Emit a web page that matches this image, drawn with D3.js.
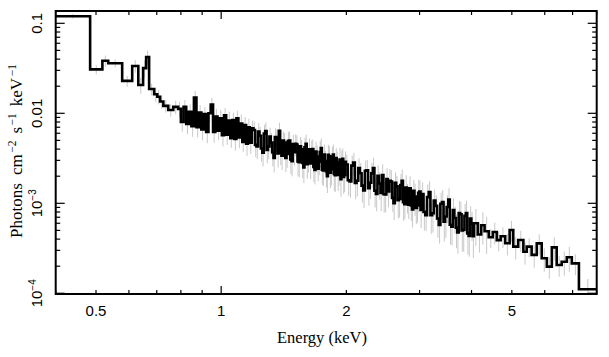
<!DOCTYPE html>
<html><head><meta charset="utf-8">
<script src="https://cdn.jsdelivr.net/npm/d3@7"></script>
<style>body{margin:0;background:#fff}svg{display:block}</style>
</head><body><svg id="c" width="609" height="357"></svg>
<script>
// Bin edges (keV)
const binEdges = [
 0.40, 0.484, 0.518, 0.535, 0.578, 0.611, 0.632, 0.649, 0.660, 0.671, 0.690, 0.702, 0.713, 0.726, 0.746, 0.767, 0.788,
 0.800, 0.812, 0.824, 0.836, 0.848, 0.860, 0.872, 0.884, 0.896, 0.908, 0.920, 0.932, 0.944, 0.956, 0.968, 0.980, 0.992,
 1.004, 1.016, 1.028, 1.040, 1.052, 1.064, 1.076, 1.088, 1.100, 1.112, 1.124, 1.136, 1.148, 1.160, 1.172, 1.184, 1.196,
 1.206, 1.216, 1.226, 1.236, 1.246, 1.256, 1.266, 1.276, 1.286, 1.296, 1.306, 1.316, 1.326, 1.336, 1.346, 1.356, 1.366,
 1.376, 1.386, 1.396, 1.406, 1.416, 1.426, 1.436, 1.446, 1.456, 1.466, 1.476, 1.486, 1.496, 1.506, 1.516, 1.526, 1.536,
 1.546, 1.556, 1.566, 1.576, 1.586, 1.596, 1.606, 1.616, 1.626, 1.636, 1.646, 1.656, 1.666, 1.676, 1.686, 1.696, 1.706,
 1.716, 1.726, 1.736, 1.746, 1.756, 1.766, 1.776, 1.786, 1.796, 1.806, 1.816, 1.826, 1.836, 1.846, 1.856, 1.866, 1.876,
 1.886, 1.896, 1.906, 1.916, 1.926, 1.936, 1.946, 1.956, 1.966, 1.976, 1.986, 1.996,
 2.016, 2.036, 2.056, 2.076, 2.096, 2.116, 2.136, 2.156, 2.176, 2.196, 2.216, 2.236, 2.256, 2.276, 2.296, 2.316, 2.336,
 2.356, 2.376, 2.396, 2.416, 2.436, 2.456, 2.476, 2.496, 2.516, 2.536, 2.556, 2.576, 2.596, 2.616, 2.636, 2.656, 2.676,
 2.696, 2.716, 2.736, 2.756, 2.776, 2.796, 2.816, 2.836, 2.856, 2.876, 2.896, 2.916, 2.936, 2.956, 2.976, 2.996, 3.016, 3.036,
 3.066, 3.096, 3.126, 3.156, 3.186, 3.216, 3.246, 3.276, 3.306, 3.336, 3.366, 3.396, 3.426, 3.456, 3.486, 3.516, 3.546,
 3.576, 3.606, 3.636, 3.666, 3.696, 3.726, 3.756, 3.786, 3.816, 3.846, 3.876, 3.906, 3.936, 3.966, 3.996, 4.026, 4.056,
 4.14, 4.22, 4.30, 4.40, 4.50, 4.60, 4.70, 4.82, 4.94, 5.04, 5.18, 5.33, 5.43, 5.58, 5.74, 5.90, 6.07, 6.24, 6.41, 6.59,
 6.78, 6.97, 7.25, 8.0
];
// Flux per bin (photons cm^-2 s^-1 keV^-1)
const flux = [
 0.120, 0.0308, 0.0384, 0.0360, 0.0229, 0.0336, 0.0206, 0.0318, 0.0422, 0.0186, 0.0163, 0.0153, 0.0135, 0.0121, 0.0109, 0.0118,
 0.0112, 0.0080, 0.0118, 0.0076, 0.0104, 0.0072, 0.0150, 0.0070, 0.0102, 0.0066, 0.0098, 0.0062, 0.0100, 0.0125, 0.0062, 0.0092,
 0.0064, 0.0088, 0.0057, 0.0095, 0.0058, 0.0083, 0.0053, 0.0084, 0.0052, 0.0088, 0.0054, 0.0077, 0.0048, 0.0074, 0.0046, 0.0070,
 0.0047, 0.0068,
 0.00653, 0.00446, 0.00429, 0.00628, 0.00563, 0.00408, 0.00365, 0.00597, 0.00637, 0.00392, 0.00428, 0.00553, 0.00474, 0.00369,
 0.00319, 0.00546, 0.00522, 0.00357, 0.00640, 0.00380, 0.00339, 0.00497, 0.00473, 0.00320, 0.00353, 0.00491, 0.00498, 0.00307,
 0.00293, 0.00455, 0.00370, 0.00458, 0.00449, 0.00292, 0.00286, 0.00430, 0.00397, 0.00280, 0.00250, 0.00420, 0.00459, 0.00272,
 0.00307, 0.00397, 0.00278, 0.00387, 0.00400, 0.00253, 0.00235, 0.00375, 0.00331, 0.00243, 0.00289, 0.00371, 0.00412, 0.00236,
 0.00232, 0.00349, 0.00295, 0.00227, 0.00200, 0.00345, 0.00333, 0.00219, 0.00239, 0.00330, 0.00348, 0.00212, 0.00205, 0.00318,
 0.00286, 0.00207, 0.00231, 0.00307, 0.00185, 0.00296, 0.00312, 0.00196, 0.00206, 0.00290,
 0.00269, 0.00180, 0.00175, 0.00262, 0.00284, 0.00168, 0.00178, 0.00246, 0.00216, 0.00157, 0.00139, 0.00230, 0.00233, 0.00147,
 0.00169, 0.00215, 0.00247, 0.00138, 0.00127, 0.00202, 0.00166, 0.00130, 0.00206, 0.00126, 0.00125, 0.00186, 0.00135, 0.00178,
 0.00174, 0.00115, 0.00100, 0.00169, 0.00154, 0.00108, 0.00112, 0.00160, 0.00178, 0.00103, 0.000978, 0.00150, 0.00120, 0.000967,
 0.00147, 0.000944, 0.000853, 0.00138, 0.00119, 0.000889, 0.000948, 0.00131, 0.00135, 0.000842,
 0.00127, 0.000803, 0.000736, 0.00117, 0.00133, 0.000739, 0.000775, 0.00107, 0.000937, 0.000679, 0.000576, 0.000987, 0.00103,
 0.000626, 0.000714, 0.000910, 0.00110, 0.000578, 0.000549, 0.000841, 0.000687, 0.000536, 0.000474, 0.000781, 0.000756,
 0.000498, 0.000508, 0.000726, 0.000780, 0.000463, 0.000433, 0.000676, 0.000595, 0.000431,
 0.00060, 0.00045, 0.00057, 0.00049, 0.00042, 0.00048, 0.00039, 0.00043, 0.00036, 0.000505, 0.000330, 0.000391, 0.000290, 0.000330,
 0.000267, 0.000359, 0.000245, 0.000198, 0.000324, 0.000206, 0.000224, 0.000251, 0.000215, 0.000111
];
// Relative 1-sigma error per bin
const fluxErr = [
 0.06, 0.12, 0.14, 0.10, 0.14, 0.16, 0.20, 0.22, 0.18, 0.15, 0.18, 0.18, 0.17, 0.16, 0.16, 0.17,
 0.20, 0.22, 0.19, 0.23, 0.21, 0.24, 0.18, 0.23, 0.21, 0.24, 0.20, 0.25, 0.21, 0.19, 0.24, 0.22,
 0.21, 0.24, 0.25, 0.20, 0.23, 0.25, 0.22, 0.21, 0.26, 0.21, 0.24, 0.26, 0.22, 0.23, 0.27, 0.24,
 0.25, 0.23,
 0.24, 0.27, 0.28, 0.24, 0.25, 0.29, 0.30, 0.25, 0.24, 0.29, 0.28, 0.25, 0.27, 0.30, 0.31, 0.25,
 0.26, 0.30, 0.23, 0.30, 0.31, 0.26, 0.27, 0.31, 0.30, 0.26, 0.26, 0.31, 0.32, 0.27, 0.29, 0.27,
 0.27, 0.32, 0.32, 0.27, 0.28, 0.32, 0.33, 0.27, 0.26, 0.31, 0.29, 0.32, 0.33, 0.28, 0.28, 0.32,
 0.31, 0.29, 0.33, 0.28, 0.29, 0.33, 0.27, 0.32, 0.33, 0.29, 0.30, 0.34, 0.35, 0.29, 0.29, 0.33,
 0.34, 0.29, 0.29, 0.35, 0.35, 0.29, 0.31, 0.34, 0.32, 0.35, 0.36, 0.30, 0.30, 0.35, 0.35, 0.30,
 0.29, 0.33, 0.34, 0.29, 0.28, 0.34, 0.33, 0.29, 0.30, 0.35, 0.36, 0.30, 0.30, 0.36, 0.34, 0.31,
 0.30, 0.35, 0.36, 0.31, 0.34, 0.37, 0.32, 0.37, 0.37, 0.32, 0.33, 0.35, 0.34, 0.30, 0.35, 0.31,
 0.31, 0.37, 0.38, 0.32, 0.34, 0.38, 0.32, 0.37, 0.36, 0.31, 0.36, 0.33, 0.37, 0.32, 0.39, 0.34,
 0.36, 0.39, 0.34, 0.37, 0.35, 0.38, 0.33, 0.39,
 0.32, 0.38, 0.39, 0.33, 0.31, 0.39, 0.38, 0.33, 0.36, 0.40, 0.42, 0.34, 0.34, 0.40, 0.38, 0.35,
 0.33, 0.41, 0.42, 0.36, 0.38, 0.42, 0.43, 0.36, 0.37, 0.42, 0.41, 0.37, 0.36, 0.43, 0.44, 0.37,
 0.39, 0.44,
 0.24, 0.27, 0.25, 0.26, 0.27, 0.26, 0.28, 0.27, 0.28, 0.24, 0.28, 0.26, 0.29, 0.27, 0.29, 0.26, 0.30,
 0.31, 0.26, 0.30, 0.29, 0.28, 0.29, 0.22
];
const xLabelTicks = [0.5, 1, 2, 5];
const xLabelText = ["0.5", "1", "2", "5"];
const xMajorTicks = [1];
const yLabelTicks = [0.1, 0.01, 0.001, 0.0001];
const yLabelBase = ["0.1", "0.01", "10", "10"];
const yLabelExp = ["", "", "\u22123", "\u22124"];
const yMajorTicks = [0.1, 0.01, 0.001, 0.0001];
const xDomain = [0.4, 8.0];
const yDomain = [9.82e-5, 0.137];

const svg = d3.select("#c");
const L = 55.7, R = 596.7, T = 11, B = 294;
const x = d3.scaleLog().domain(xDomain).range([L, R]);
const y = d3.scaleLog().domain(yDomain).range([B, T]);

const bins = flux.map((v, i) => ({lo: binEdges[i], hi: binEdges[i + 1], v, e: fluxErr[i]}));

svg.append("clipPath").attr("id", "pc").append("rect")
  .attr("x", L).attr("y", T).attr("width", R - L).attr("height", B - T);

const plot = svg.append("g").attr("clip-path", "url(#pc)");

// error bars
plot.append("g").selectAll("line").data(bins).join("line")
  .attr("x1", d => x(Math.sqrt(d.lo * d.hi))).attr("x2", d => x(Math.sqrt(d.lo * d.hi)))
  .attr("y1", d => y(d.v * (1 + d.e))).attr("y2", d => y(Math.max(d.v * (1 - d.e), 1e-6)))
  .attr("stroke", "#c8c8c8").attr("stroke-width", 1);

// histogram
const pts = [];
bins.forEach(d => { pts.push([d.lo, d.v]); pts.push([d.hi, d.v]); });
plot.append("path").datum(pts)
  .attr("d", d3.line().x(p => x(p[0])).y(p => y(p[1])))
  .attr("fill", "none").attr("stroke", "#000").attr("stroke-width", 2.6)
  .attr("stroke-linejoin", "miter");

// ticks
const tk = svg.append("g").attr("stroke", "#000").attr("stroke-width", 1.2);
x.ticks().forEach(t => {
  if (t < xDomain[0] - 1e-9 || t > xDomain[1] + 1e-9) return;
  const len = xMajorTicks.includes(t) ? 8 : 4;
  const px = x(t);
  tk.append("line").attr("x1", px).attr("x2", px).attr("y1", B).attr("y2", B - len);
  tk.append("line").attr("x1", px).attr("x2", px).attr("y1", T).attr("y2", T + len);
});
y.ticks().forEach(t => {
  if (t < yDomain[0] || t > yDomain[1]) return;
  const maj = yMajorTicks.some(m => Math.abs(m - t) / m < 1e-6);
  const len = maj ? 9 : 4.5;
  const py = y(t);
  tk.append("line").attr("x1", L).attr("x2", L + len).attr("y1", py).attr("y2", py);
  tk.append("line").attr("x1", R).attr("x2", R - len).attr("y1", py).attr("y2", py);
});

// frame
svg.append("rect").attr("x", L).attr("y", T).attr("width", R - L).attr("height", B - T)
  .attr("fill", "none").attr("stroke", "#000").attr("stroke-width", 2);

// x tick labels
svg.append("g").selectAll("text").data(xLabelTicks).join("text")
  .attr("x", d => x(d)).attr("y", 316)
  .attr("text-anchor", "middle")
  .attr("font-family", "Liberation Sans, Arial, sans-serif").attr("font-size", 15)
  .text((d, i) => xLabelText[i]);

// y tick labels (rotated)
yLabelTicks.forEach((v, i) => {
  const t = svg.append("text")
    .attr("transform", `translate(42,${y(v)}) rotate(-90)`)
    .attr("text-anchor", "middle")
    .attr("font-family", "Liberation Sans, Arial, sans-serif").attr("font-size", 15);
  t.append("tspan").text(yLabelBase[i]);
  if (yLabelExp[i]) t.append("tspan").attr("dy", -6).attr("font-size", 10).text(yLabelExp[i]);
});

// axis titles
svg.append("text").attr("x", 322).attr("y", 343).attr("text-anchor", "middle")
  .attr("font-family", "Liberation Serif, Times New Roman, serif").attr("font-size", 16.5)
  .text("Energy (keV)");

const yTitle = svg.append("text").attr("transform", `translate(22,151) rotate(-90)`)
  .attr("text-anchor", "middle")
  .attr("font-family", "Liberation Serif, Times New Roman, serif").attr("font-size", 17);
const parts = [["Photons", false, 0, 0], ["cm", false, 0, 8], ["\u22122", true, -6.5, 1.5], ["s", false, 6.5, 7],
               ["\u22121", true, -6.5, 1.5], ["keV", false, 6.5, 7], ["\u22121", true, -6.5, 1.5]];
parts.forEach(([s, sup, dy, dx]) => {
  const ts = yTitle.append("tspan").text(s).attr("dy", dy).attr("dx", dx);
  if (sup) ts.attr("font-size", 11.5);
});
</script></body></html>
